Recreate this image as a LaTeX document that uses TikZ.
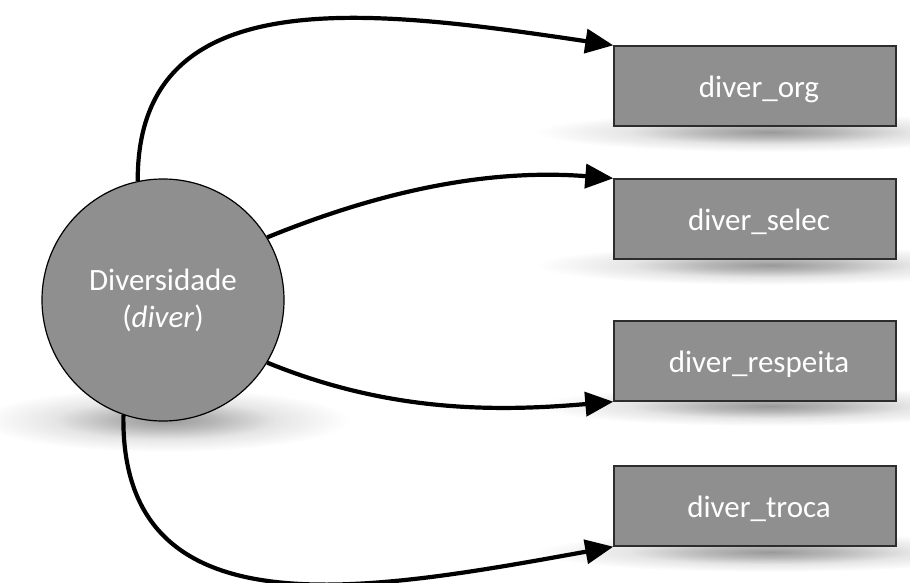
\documentclass[tikz,border=0pt]{standalone}
\usepackage{fontspec}
\setmainfont{Carlito}
\usetikzlibrary{arrows.meta}

\definecolor{boxgray}{RGB}{143,143,143}
\definecolor{boxedge}{RGB}{45,45,45}

% soft drop shadow: dark core fading to white at the path edge (25bp)
\pgfdeclareradialshading{softshadow}{\pgfpoint{0bp}{0bp}}{%
  color(0bp)=(black!40); color(7bp)=(black!28); color(15bp)=(black!10);
  color(25bp)=(white); color(50bp)=(white)}

\tikzset{
  labelfont/.style={font=\fontsize{31}{37}\selectfont, text=white},
  hub/.style={circle, draw=black, line width=1.2pt, fill=boxgray,
    minimum size=242pt, inner sep=0pt, align=center, labelfont},
  item/.style={rectangle, draw=boxedge, line width=1.4pt, fill=boxgray,
    minimum width=282pt, minimum height=80pt, inner sep=0pt, labelfont,
    text height=29pt, text depth=6pt},
  link/.style={line width=4.2pt, -{Triangle[length=28pt,width=24pt]}},
  shadowblob/.style={shading=softshadow}
}

\begin{document}
\begin{tikzpicture}[x=1pt, y=-1pt]
  \useasboundingbox (0,0) rectangle (910,583);

  % shadows under the shapes
  \shade[shadowblob] (165,420) ellipse (185 and 32);
  \shade[shadowblob] (770,132) ellipse (235 and 20);
  \shade[shadowblob] (770,265) ellipse (235 and 20);
  \shade[shadowblob] (770,406) ellipse (235 and 20);
  \shade[shadowblob] (770,552) ellipse (235 and 20);

  % nodes
  \node[hub] (c) at (163,300) {Diversidade\\(\textit{diver})};
  \node[item] (b1) at (755,86)  {\hspace*{8pt}diver\_org};
  \node[item] (b2) at (755,219) {\hspace*{8pt}diver\_selec};
  \node[item] (b3) at (755,361) {\hspace*{8pt}diver\_respeita};
  \node[item] (b4) at (755,506) {\hspace*{8pt}diver\_troca};

  % connectors
  \draw[link] (c.102) .. controls (137,-20) and (364,8) .. (b1.north west);
  \draw[link] (c.31) .. controls (388,188) and (494,169) .. (b2.north west);
  \draw[link] (c.-31) .. controls (388,412) and (494,412) .. (b3.south west);
  \draw[link] (c.251) .. controls (120,636) and (364,592) .. (b4.south west);
\end{tikzpicture}
\end{document}
